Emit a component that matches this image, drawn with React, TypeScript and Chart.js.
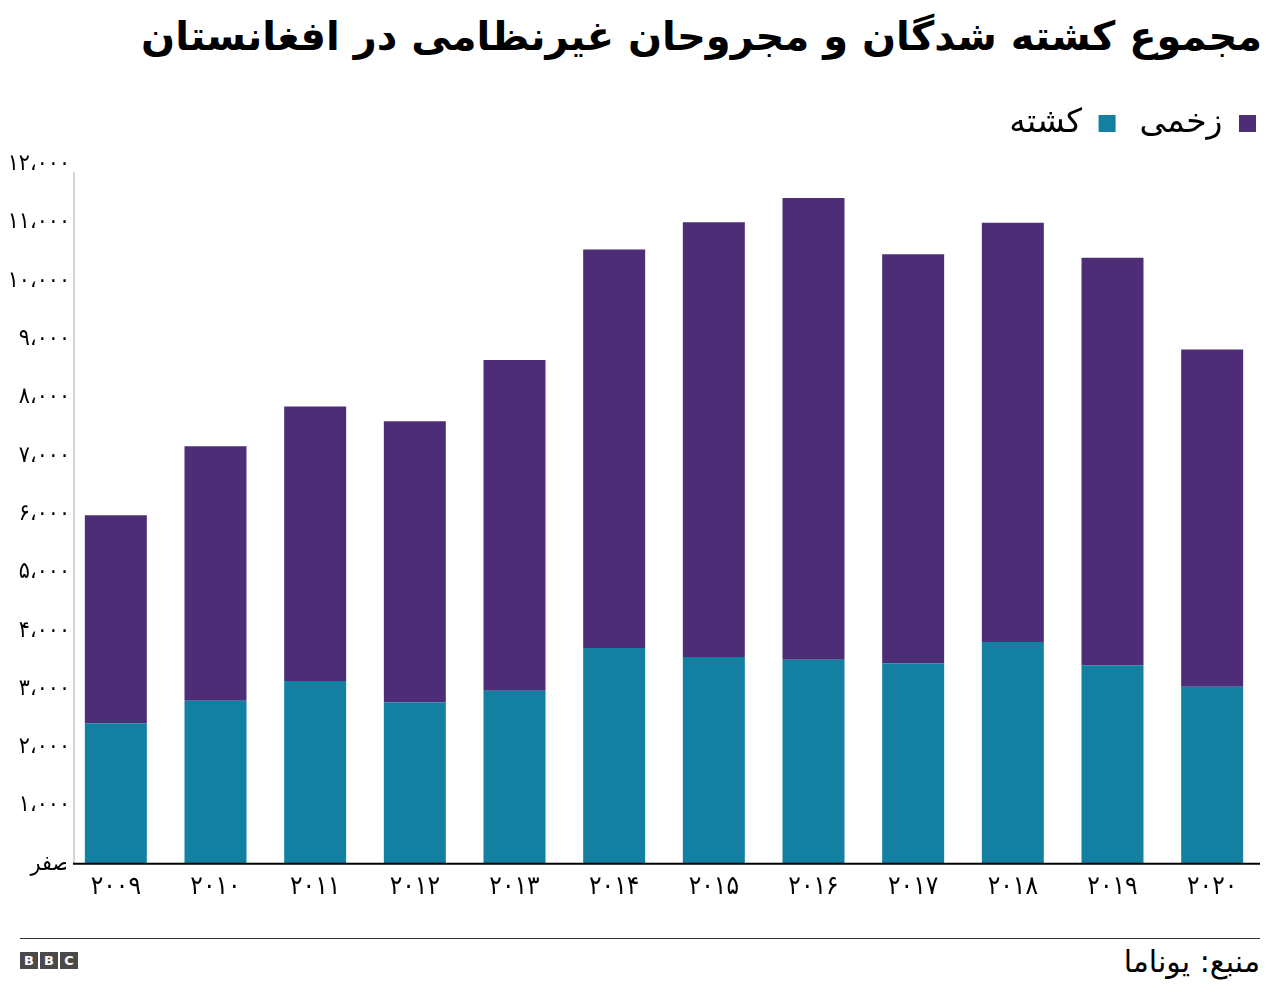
import React, { useEffect, useRef } from "react";
import { Chart, registerables } from "chart.js";

Chart.register(...registerables);

const years = ["2009", "2010", "2011", "2012", "2013", "2014", "2015", "2016", "2017", "2018", "2019", "2020"];
const killed = [2412, 2794, 3133, 2769, 2969, 3701, 3545, 3498, 3438, 3804, 3403, 3035];
const injured = [3566, 4368, 4709, 4821, 5669, 6833, 7457, 7920, 7015, 7189, 6989, 5785];
const yTicks = [0, 1000, 2000, 3000, 4000, 5000, 6000, 7000, 8000, 9000, 10000, 11000, 12000];

const TITLE = "مجموع کشته شدگان و مجروحان غیرنظامی در افغانستان";
const LABEL_KILLED = "کشته";
const LABEL_INJURED = "زخمی";
const SOURCE = "منبع: یوناما";
const ZERO = "صفر";

const FA = "۰۱۲۳۴۵۶۷۸۹";
const toFa = (s: string) => s.replace(/[0-9]/g, (d) => FA[+d]);
const fmt = (v: number) => {
  if (v === 0) return ZERO;
  const s = String(v).replace(/\B(?=(\d{3})+(?!\d))/g, "،");
  return toFa(s);
};

const FONT = "'DejaVu Sans', 'Noto Sans', sans-serif";
const FONT_C = "'DejaVu Sans Condensed', 'DejaVu Sans', sans-serif";
const TEAL = "#1380a1";
const PURPLE = "#4e2d77";

const legendGap = {
  id: "legendGap",
  beforeInit(chart: any) {
    const orig = chart.legend.fit;
    chart.legend.fit = function () {
      orig.bind(chart.legend)();
      this.height += 14;
    };
  },
  afterLayout(chart: any) {
    chart.legend.left += 18;
    chart.legend.right += 18;
  },
};

const axisLines = {
  id: "axisLines",
  afterDatasetsDraw(chart: any) {
    const { ctx, chartArea, scales } = chart;
    const yTop = scales.y.getPixelForValue(12000);
    const yBot = chartArea.bottom;
    ctx.save();
    ctx.strokeStyle = "#d4d2e0";
    ctx.lineWidth = 2;
    ctx.beginPath();
    ctx.moveTo(74, yTop + 8);
    ctx.lineTo(74, yBot);
    ctx.stroke();
    ctx.strokeStyle = "#000";
    ctx.lineWidth = 2;
    ctx.beginPath();
    ctx.moveTo(73, yBot);
    ctx.lineTo(1260, yBot);
    ctx.stroke();
    ctx.restore();
  },
};

export default function App() {
  const ref = useRef<HTMLCanvasElement>(null);
  useEffect(() => {
    document.body.style.margin = "0";
    const ctx = ref.current!;
    const chart = new Chart(ctx, {
      type: "bar",
      data: {
        labels: years,
        datasets: [
          { label: LABEL_KILLED, data: killed, backgroundColor: TEAL, borderWidth: 0 },
          { label: LABEL_INJURED, data: injured, backgroundColor: PURPLE, borderWidth: 0 },
        ],
      },
      plugins: [legendGap, axisLines],
      options: {
        animation: false,
        responsive: false,
        maintainAspectRatio: false,
        layout: { padding: { left: 0, right: 18, top: 0, bottom: 0 } },
        datasets: { bar: { categoryPercentage: 1, barPercentage: 0.622 } },
        plugins: {
          tooltip: { enabled: false },
          legend: {
            position: "top",
            align: "start",
            rtl: true,
            reverse: true,
            textDirection: "rtl",
            labels: {
              boxWidth: 17,
              boxHeight: 17,
              padding: 24,
              color: "#000",
              font: { family: FONT, size: 33 },
            },
          },
        },
        scales: {
          x: {
            stacked: true,
            grid: { display: false },
            border: { display: false },
            ticks: {
              color: "#000",
              font: { family: FONT_C, size: 26 },
              padding: 0,
              callback: (_v: any, i: number) => toFa(years[i]),
            },
          },
          y: {
            stacked: true,
            min: 0,
            max: 12000,
            afterBuildTicks: (scale: any) => {
              scale.ticks = yTicks.map((v) => ({ value: v }));
            },
            afterFit: (scale: any) => {
              scale.width = 66;
            },
            grid: { display: false },
            border: { display: false },
            ticks: {
              color: "#000",
              font: { family: FONT_C, size: 23 },
              padding: -12,
              callback: (v: any) => fmt(Number(v)),
            },
          },
        },
      },
    });
    return () => chart.destroy();
  }, []);

  return (
    <div style={{ position: "relative", width: 1280, height: 997, background: "#fff", overflow: "hidden" }}>
      <div
        dir="rtl"
        style={{
          position: "absolute",
          right: 18,
          top: 4,
          fontFamily: FONT,
          fontWeight: "bold",
          fontSize: 40,
          lineHeight: "64px",
          color: "#000",
          whiteSpace: "nowrap",
        }}
      >
        {TITLE}
      </div>
      <canvas ref={ref} width={1280} height={820} style={{ position: "absolute", left: 0, top: 83, width: 1280, height: 820 }} />
      <div style={{ position: "absolute", left: 20, right: 20, top: 938, height: 1, background: "#333" }} />
      <div style={{ position: "absolute", left: 20, top: 952, display: "flex", gap: 2 }}>
        {["B", "B", "C"].map((c, i) => (
          <div
            key={i}
            style={{
              width: 18,
              height: 17,
              background: "#4a4a4a",
              color: "#fff",
              fontFamily: "'DejaVu Sans', sans-serif",
              fontWeight: "bold",
              fontSize: 13,
              lineHeight: "17px",
              textAlign: "center",
            }}
          >
            {c}
          </div>
        ))}
      </div>
      <div
        dir="rtl"
        style={{
          position: "absolute",
          right: 20,
          top: 942,
          fontFamily: FONT,
          fontSize: 30,
          lineHeight: "40px",
          color: "#000",
          whiteSpace: "nowrap",
        }}
      >
        {SOURCE}
      </div>
    </div>
  );
}
